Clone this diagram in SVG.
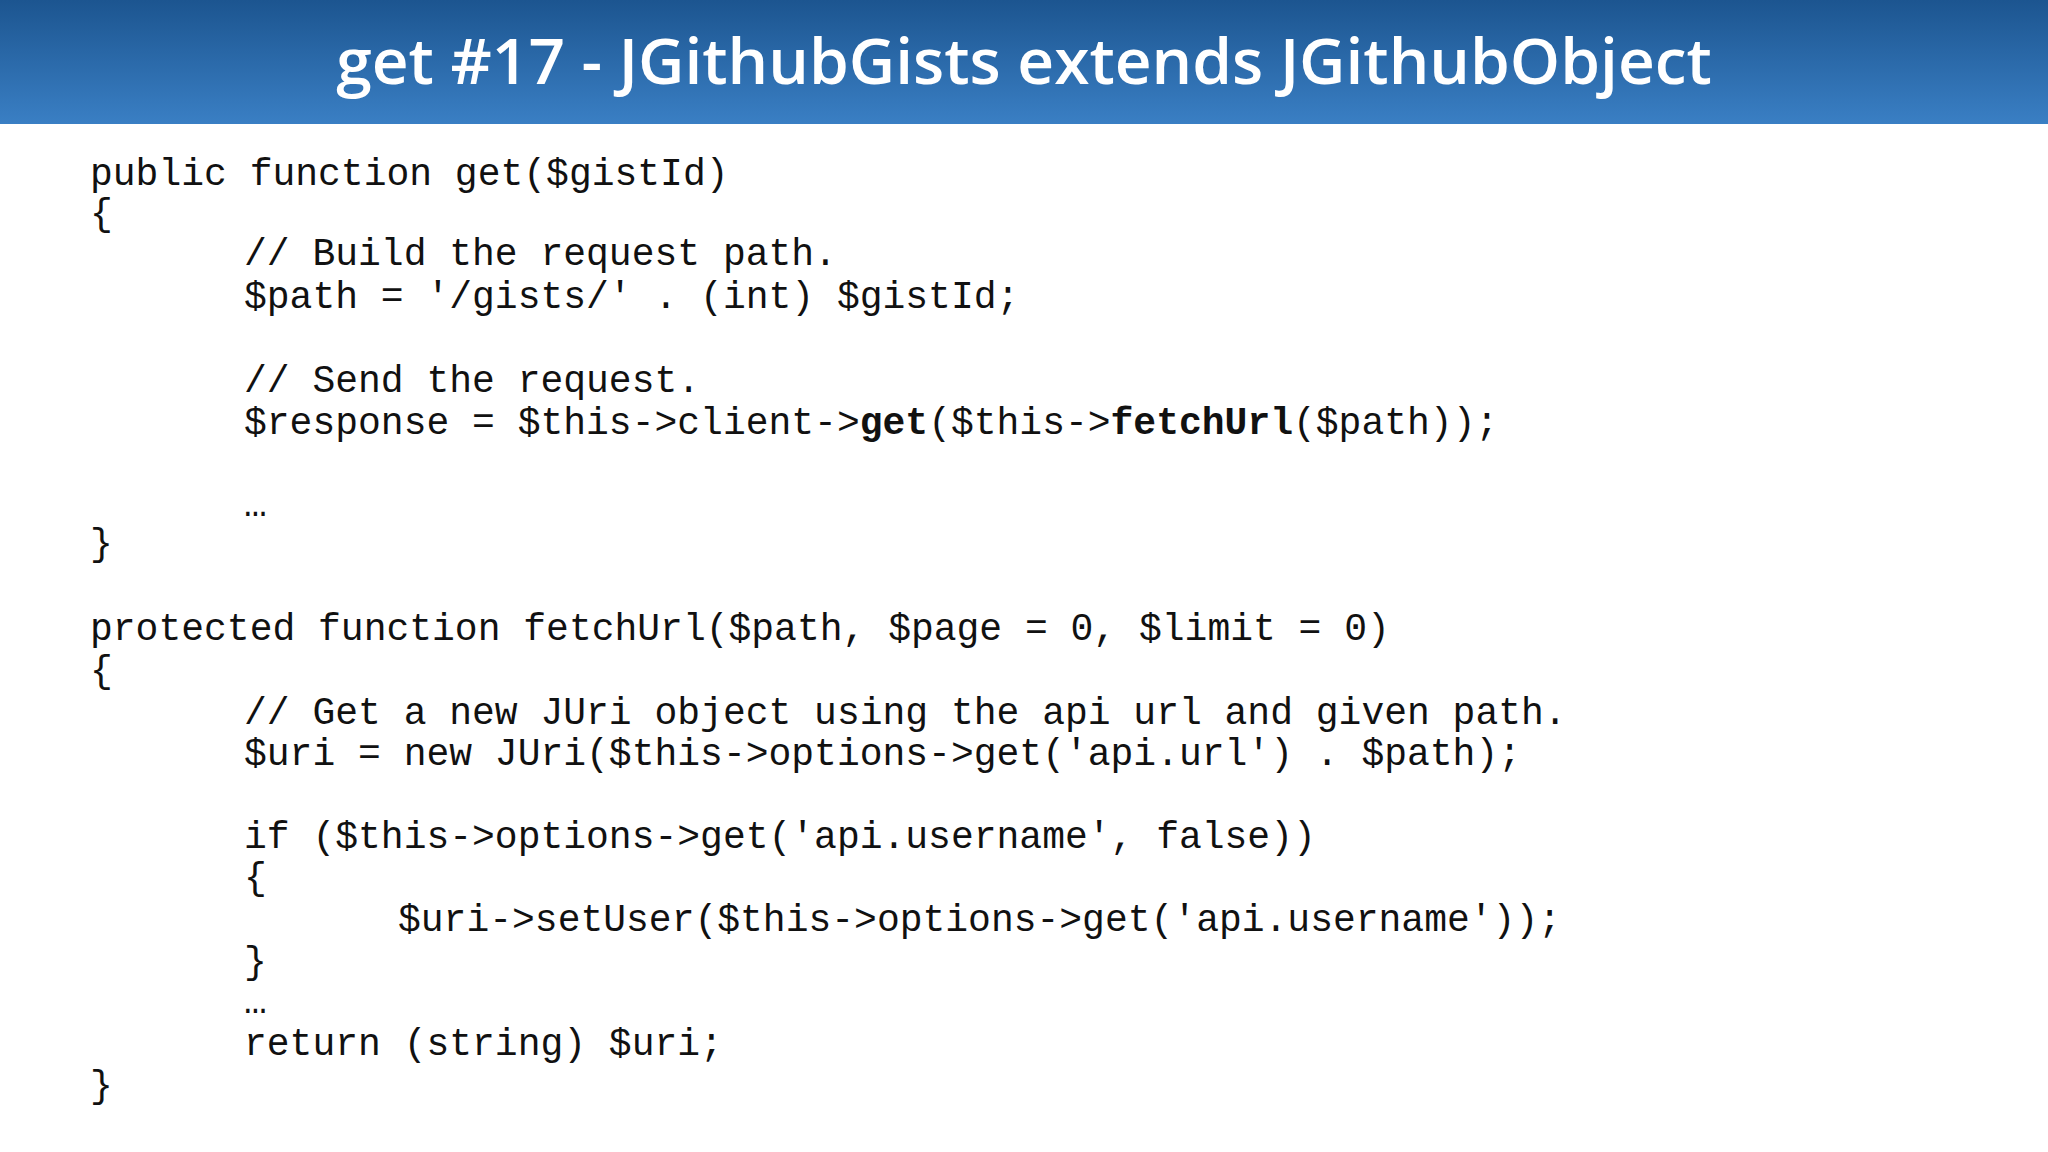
<svg xmlns="http://www.w3.org/2000/svg" width="2048" height="1152" viewBox="0 0 2048 1152">
<style>
.t{font-family:"Open Sans","Noto Sans",sans-serif;font-size:64px;fill:#fff;font-weight:600}
.c{font-family:"Liberation Mono","DejaVu Sans Mono",monospace;font-size:38px;fill:#111;white-space:pre}
.b{font-weight:bold}
</style>
<defs><linearGradient id="g" x1="0" y1="0" x2="0" y2="1"><stop offset="0" stop-color="#1c5590"/><stop offset="1" stop-color="#3a7fc4"/></linearGradient></defs>
<rect width="2048" height="1152" fill="#fff"/>
<g id="header"><rect width="2048" height="124" fill="url(#g)"/>
<text class="t" x="1024" y="84" text-anchor="middle">get #17 - JGithubGists extends JGithubObject</text></g>
<g id="code" class="c">
<text x="90" y="185">public function get($gistId)</text>
<text x="90" y="225">{</text>
<text x="244" y="265">// Build the request path.</text>
<text x="244" y="308">$path = '/gists/' . (int) $gistId;</text>
<text x="244" y="392">// Send the request.</text>
<text x="244" y="434">$response = $this-&gt;client-&gt;<tspan class="b">get</tspan>($this-&gt;<tspan class="b">fetchUrl</tspan>($path));</text>
<text x="244" y="516">…</text>
<text x="90" y="555">}</text>
<text x="90" y="640">protected function fetchUrl($path, $page = 0, $limit = 0)</text>
<text x="90" y="682">{</text>
<text x="244" y="724">// Get a new JUri object using the api url and given path.</text>
<text x="244" y="765">$uri = new JUri($this-&gt;options-&gt;get('api.url') . $path);</text>
<text x="244" y="848">if ($this-&gt;options-&gt;get('api.username', false))</text>
<text x="244" y="889">{</text>
<text x="398" y="931">$uri-&gt;setUser($this-&gt;options-&gt;get('api.username'));</text>
<text x="244" y="973">}</text>
<text x="244" y="1013">…</text>
<text x="244" y="1055">return (string) $uri;</text>
<text x="90" y="1097">}</text>
</g>
</svg>
